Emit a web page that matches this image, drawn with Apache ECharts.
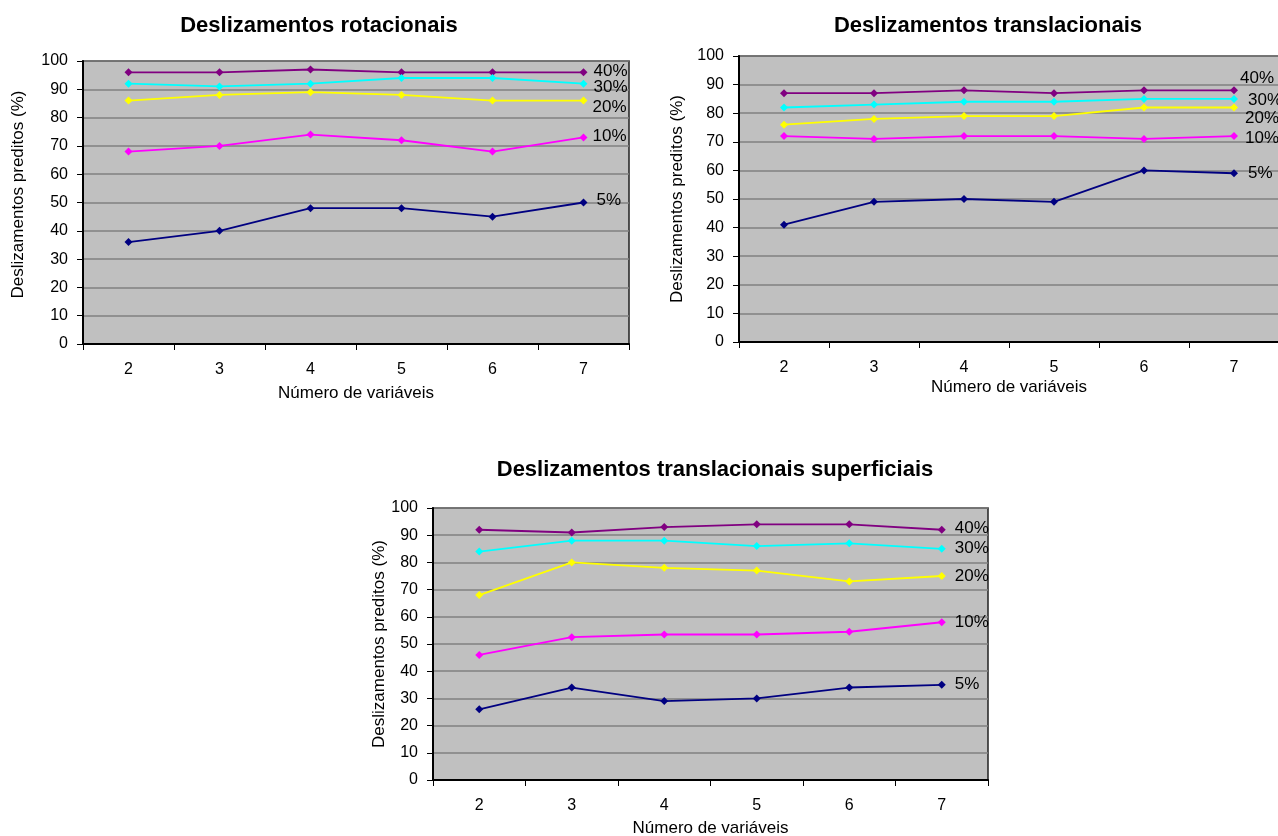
<!DOCTYPE html>
<html>
<head>
<meta charset="utf-8">
<script src="https://cdn.jsdelivr.net/npm/echarts@6/dist/echarts.min.js"></script>
<style>
html,body{margin:0;padding:0;background:#fff;}
#c{width:1278px;height:836px;}
</style>
</head>
<body>
<div id="c"></div>
<script>
const categories = ['2','3','4','5','6','7'];
const seriesNames = ['40%','30%','20%','10%','5%'];
const yTicks = [0,10,20,30,40,50,60,70,80,90,100];
const titles = ['Deslizamentos rotacionais','Deslizamentos translacionais','Deslizamentos translacionais superficiais'];
const yAxisName = 'Deslizamentos preditos (%)';
const xAxisName = 'Número de variáveis';

// Chart 1: Deslizamentos rotacionais
const rot40 = [96, 96, 97, 96, 96, 96];
const rot30 = [92, 91, 92, 94, 94, 92];
const rot20 = [86, 88, 89, 88, 86, 86];
const rot10 = [68, 70, 74, 72, 68, 73];
const rot5  = [36, 40, 48, 48, 45, 50];

// Chart 2: Deslizamentos translacionais
const tra40 = [87, 87, 88, 87, 88, 88];
const tra30 = [82, 83, 84, 84, 85, 85];
const tra20 = [76, 78, 79, 79, 82, 82];
const tra10 = [72, 71, 72, 72, 71, 72];
const tra5  = [41, 49, 50, 49, 60, 59];

// Chart 3: Deslizamentos translacionais superficiais
const sup40 = [92, 91, 93, 94, 94, 92];
const sup30 = [84, 88, 88, 86, 87, 85];
const sup20 = [68, 80, 78, 77, 73, 75];
const sup10 = [46, 52.5, 53.5, 53.5, 54.5, 58];
const sup5  = [26, 34, 29, 30, 34, 35];

const colors = ['#800080','#00FFFF','#FFFF00','#FF00FF','#000080'];
const FONT = '"Liberation Sans", Arial, sans-serif';

const chartData = [
  [rot40, rot30, rot20, rot10, rot5],
  [tra40, tra30, tra20, tra10, tra5],
  [sup40, sup30, sup20, sup10, sup5]
];
// end label offsets (style only)
const labelOffsets = [
  [[10,-1],[10,4],[9,7],[9,-1],[13,-2]],
  [[6,-12],[14,1],[11,11],[11,2],[14,0]],
  [[13,-1],[13,0],[13,0],[13,0],[13,0]]
];
const grids = [
  {left:83, top:61, width:546, height:283},
  {left:739, top:56, width:540, height:286},
  {left:433, top:508, width:555, height:272}
];
const titlePos = [{left:314, top:10},{left:983, top:10},{left:710, top:454}];
const yNameGap = [56, 53, 43];
const yNamePad = [[0,0,0,16],[0,0,0,0],[0,0,0,0]];
const xNameGap = [41, 37, 40];

const option = {
  animation:false,
  backgroundColor:'#fff',
  title: titles.map((t,i)=>({
    text:t, left:titlePos[i].left, top:titlePos[i].top, textAlign:'center',
    textStyle:{fontFamily:FONT, fontWeight:'bold', fontSize:22, color:'#000'}
  })),
  grid: grids.map(g=>Object.assign({show:true, outerBoundsMode:'none', containLabel:false,
    backgroundColor:'#C0C0C0', borderColor:'#202020', borderWidth:1.5}, g)),
  xAxis: grids.map((g,i)=>({
    type:'category', gridIndex:i, data:categories, boundaryGap:true,
    name:xAxisName, nameLocation:'middle', nameGap:xNameGap[i],
    nameTextStyle:{fontFamily:FONT, fontSize:17, color:'#000'},
    axisLine:{lineStyle:{color:'#000', width:2}},
    axisTick:{show:true, length:6, lineStyle:{color:'#000'}},
    axisLabel:{fontFamily:FONT, fontSize:16, color:'#000', margin:18},
    splitLine:{show:false}
  })),
  yAxis: grids.map((g,i)=>({
    type:'value', gridIndex:i, min:yTicks[0], max:yTicks[yTicks.length-1], interval:10,
    name:yAxisName, nameLocation:'middle', nameGap:yNameGap[i],
    nameTextStyle:{fontFamily:FONT, fontSize:17, color:'#000', padding:yNamePad[i]},
    axisLine:{show:true, lineStyle:{color:'#000', width:2}},
    axisTick:{show:true, length:6, lineStyle:{color:'#000'}},
    axisLabel:{fontFamily:FONT, fontSize:16, color:'#000', margin:15},
    splitLine:{show:true, lineStyle:{color:'#808080', width:1.5}}
  })),
  series: []
};

chartData.forEach((arrs, gi)=>{
  arrs.forEach((vals, si)=>{
    option.series.push({
      type:'line', name:seriesNames[si], xAxisIndex:gi, yAxisIndex:gi,
      data:vals, symbol:'diamond', symbolSize:8, showAllSymbol:true,
      lineStyle:{color:colors[si], width:1.8},
      itemStyle:{color:colors[si]},
      endLabel:{show:true, formatter:seriesNames[si], distance:0,
        offset:labelOffsets[gi][si], color:'#000', fontFamily:FONT, fontSize:17}
    });
  });
});

const chart = echarts.init(document.getElementById('c'), null, {renderer:'canvas'});
chart.setOption(option);
</script>
</body>
</html>
